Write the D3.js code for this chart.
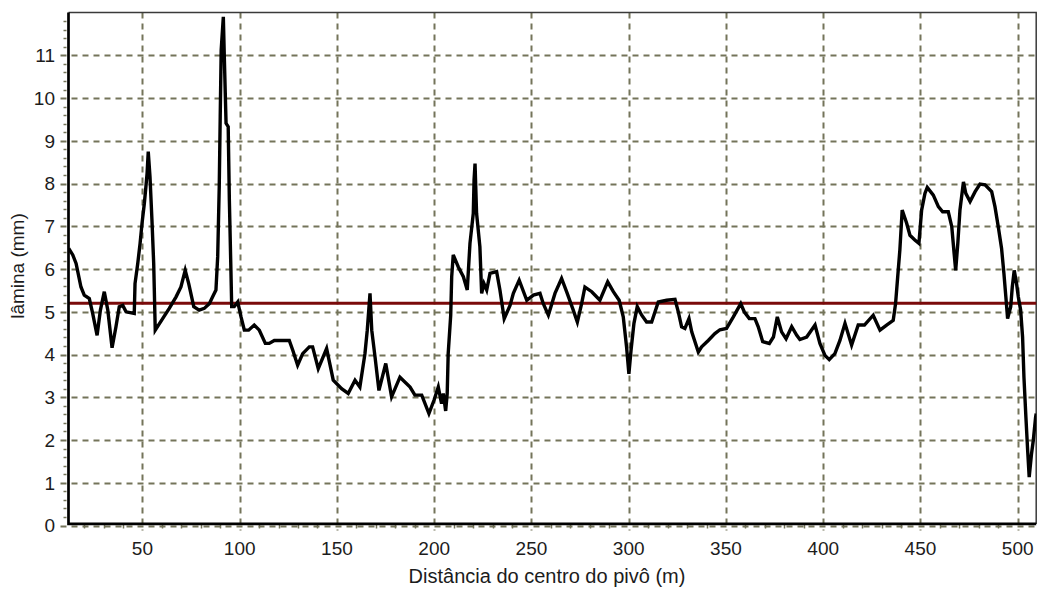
<!DOCTYPE html>
<html>
<head>
<meta charset="utf-8">
<script src="https://cdn.jsdelivr.net/npm/d3@7"></script>
<style>
  html, body { margin: 0; padding: 0; background: #fff; }
  svg { display: block; }
  text { font-family: "Liberation Sans", Arial, sans-serif; font-size: 19px; fill: #1c1c1c; }
</style>
</head>
<body>
<svg id="chart" width="1044" height="593"></svg>
<script>
// Distância ao centro do pivô (m)
const distancias = [
  12.1, 14.2, 15.9, 18.4, 20.1, 22.7, 24.4, 26.7, 28.4, 30.4, 32.2, 34.4, 36.4, 38.1, 39.9, 41.6,
  45.8, 46.2, 47.6, 48.8, 49.8, 51.0, 51.8, 52.4, 53.0, 53.9, 54.9, 55.8, 56.6, 60.4, 63.8, 67.3,
  69.8, 72.0, 73.8, 76.4, 79.2, 81.8, 84.4, 86.1, 87.8, 88.7, 89.5, 90.0, 90.5, 91.6, 92.1, 93.0,
  94.1, 94.7, 95.5, 95.9, 97.2, 99.0, 100.7, 102.4, 104.6, 107.5, 110.1, 113.2, 115.2, 117.8, 125.5,
  127.3, 129.8, 132.4, 135.8, 137.5, 140.4, 144.7, 148.1, 152.4, 155.8, 159.3, 161.8, 164.4, 165.6,
  167.0, 167.9, 169.6, 171.6, 175.1, 178.1, 182.4, 187.6, 190.1, 193.6, 197.3, 199.9, 202.1, 203.8,
  204.7, 205.9, 206.7, 207.2, 208.5, 209.0, 209.8, 212.4, 215.0, 217.0, 218.4, 220.1, 220.5, 221.0,
  221.8, 223.5, 224.4, 225.6, 227.0, 228.7, 232.1, 233.8, 236.0, 239.0, 240.7, 243.7, 247.6, 251.0,
  254.4, 256.1, 258.7, 262.1, 265.5, 268.4, 271.5, 273.6, 275.8, 277.5, 281.0, 285.2, 289.2, 292.1,
  295.1, 297.2, 298.9, 300.1, 301.2, 302.7, 304.4, 306.7, 309.2, 311.8, 315.2, 319.5, 323.8, 325.5,
  327.2, 328.9, 331.0, 332.4, 335.8, 337.5, 340.9, 344.3, 346.9, 350.3, 353.8, 357.6, 359.4, 362.0,
  364.9, 366.6, 368.9, 372.3, 374.4, 376.4, 378.6, 380.9, 383.8, 386.4, 388.0, 391.5, 395.8, 398.3,
  400.9, 403.1, 406.0, 408.6, 411.2, 414.6, 418.0, 421.2, 425.7, 429.2, 432.6, 436.0, 437.2, 438.3,
  439.4, 440.6, 442.9, 444.6, 447.1, 449.2, 450.6, 452.3, 453.5, 456.6, 459.2, 461.4, 464.3, 466.1,
  467.3, 468.1, 469.2, 470.3, 472.1, 473.3, 475.5, 478.1, 480.6, 483.2, 486.6, 488.3, 490.0, 491.7,
  492.9, 493.9, 494.8, 496.4, 497.2, 498.2, 499.4, 500.3, 501.5, 502.5, 503.2, 504.2, 505.1, 505.9,
  507.1, 508.0, 509.2, 509.5
];

// Lâmina aplicada (mm)
const laminas = [
  6.48, 6.33, 6.13, 5.58, 5.39, 5.31, 4.97, 4.45, 5.04, 5.47, 5.04, 4.16, 4.65, 5.12, 5.15, 5.00,
  4.96, 5.66, 6.13, 6.60, 7.07, 7.54, 7.93, 8.24, 8.75, 8.16, 7.15, 6.13, 4.57, 4.84, 5.08, 5.35,
  5.58, 5.97, 5.66, 5.12, 5.04, 5.08, 5.19, 5.35, 5.51, 6.29, 7.93, 9.57, 11.13, 11.90, 10.97, 9.41,
  9.33, 7.61, 5.97, 5.12, 5.12, 5.23, 4.88, 4.57, 4.57, 4.69, 4.57, 4.26, 4.26, 4.33, 4.33,
  4.10, 3.75, 4.02, 4.18, 4.18, 3.67, 4.14, 3.40, 3.20, 3.09, 3.40, 3.24, 4.02, 4.57,
  5.43, 4.57, 3.94, 3.16, 3.79, 3.01, 3.47, 3.24, 3.05, 3.05, 2.62, 2.93, 3.24, 2.85,
  3.09, 2.68, 3.09, 4.02, 4.92, 5.82, 6.33, 6.05, 5.82, 5.51, 6.60, 7.30, 8.08, 8.47,
  7.30, 6.52, 5.43, 5.66, 5.51, 5.90, 5.94, 5.51, 4.84, 5.15, 5.43, 5.74, 5.27, 5.39,
  5.43, 5.19, 4.92, 5.43, 5.78, 5.43, 5.04, 4.76, 5.19, 5.58, 5.47, 5.27, 5.70, 5.47,
  5.27, 4.88, 4.18, 3.55, 4.10, 4.73, 5.12, 4.92, 4.76, 4.76, 5.23, 5.27, 5.29, 5.00,
  4.65, 4.61, 4.84, 4.53, 4.06, 4.18, 4.33, 4.49, 4.58, 4.61, 4.88, 5.19, 5.00, 4.84,
  4.84, 4.65, 4.30, 4.26, 4.41, 4.88, 4.53, 4.37, 4.65, 4.45, 4.35, 4.41, 4.69, 4.26,
  3.98, 3.88, 4.02, 4.33, 4.73, 4.22, 4.69, 4.69, 4.92, 4.57, 4.69, 4.80, 5.19, 5.82,
  6.44, 7.38, 7.07, 6.79, 6.68, 6.60, 7.38, 7.77, 7.91, 7.73, 7.46, 7.34, 7.34, 6.99,
  6.37, 5.97, 6.60, 7.38, 8.04, 7.77, 7.58, 7.81, 7.99, 7.97, 7.81, 7.46, 6.99, 6.48,
  5.90, 5.35, 4.84, 5.12, 5.58, 5.97, 5.66, 5.35, 5.04, 4.41, 3.47, 2.54, 1.76, 1.13,
  1.68, 1.99, 2.54, 2.62
];

// Lâmina média (mm)
const laminaMedia = 5.2;

// Marcas dos eixos
const xTicks = [50, 100, 150, 200, 250, 300, 350, 400, 450, 500];
const yTicks = [0, 1, 2, 3, 4, 5, 6, 7, 8, 9, 10, 11];
const xMinor = d3.range(20, 510, 10);
const yMinor = d3.range(0.2, 12, 0.2);

const xTitulo = "Distância do centro do pivô (m)";
const yTitulo = "lâmina (mm)";

const svg = d3.select("#chart");
const margem = { esq: 68.5, dir: 1036.2, sup: 12.6, inf: 525.5 };

const x = d3.scaleLinear().domain([12, 509.5]).range([margem.esq, margem.dir]);
const y = d3.scaleLinear().domain([0, 12]).range([margem.inf, margem.sup]);

const corGrade = "#74745a";

// Grade tracejada
const grade = svg.append("g");
grade.selectAll("line.h").data(yTicks).join("line")
  .attr("class", "h")
  .attr("x1", margem.esq - 8).attr("x2", margem.dir)
  .attr("y1", d => Math.round(y(d)) + 0.5).attr("y2", d => Math.round(y(d)) + 0.5)
  .attr("stroke", corGrade).attr("stroke-width", 2)
  .attr("stroke-dasharray", "6,5");
grade.selectAll("line.v").data(xTicks).join("line")
  .attr("class", "v")
  .attr("x1", d => Math.round(x(d)) + 0.5).attr("x2", d => Math.round(x(d)) + 0.5)
  .attr("y1", margem.sup).attr("y2", margem.inf + 5)
  .attr("stroke", corGrade).attr("stroke-width", 2)
  .attr("stroke-dasharray", "6,5");

// Marcas secundárias
svg.append("g").selectAll("line").data(xMinor.filter(d => d % 50 !== 0)).join("line")
  .attr("x1", d => Math.round(x(d)) + 0.5).attr("x2", d => Math.round(x(d)) + 0.5)
  .attr("y1", margem.inf - 1).attr("y2", margem.inf + 3)
  .attr("stroke", corGrade).attr("stroke-width", 1.5);
svg.append("g").selectAll("line").data(yMinor.filter(d => Math.abs(d - Math.round(d)) > 0.05)).join("line")
  .attr("x1", margem.esq - 5).attr("x2", margem.esq - 2)
  .attr("y1", d => Math.round(y(d)) + 0.5).attr("y2", d => Math.round(y(d)) + 0.5)
  .attr("stroke", corGrade).attr("stroke-width", 1.5);

// Moldura
svg.append("path")
  .attr("d", `M${margem.esq},${margem.sup}H${margem.dir}V${margem.inf - 1.5}`)
  .attr("fill", "none").attr("stroke", "#3a3a3a").attr("stroke-width", 1.5);

// Linha da lâmina média
svg.append("line")
  .attr("x1", margem.esq).attr("x2", margem.dir)
  .attr("y1", y(laminaMedia)).attr("y2", y(laminaMedia))
  .attr("stroke", "#7a0a0a").attr("stroke-width", 3);

// Perfil de lâmina
svg.append("clipPath").attr("id", "area")
  .append("rect").attr("x", margem.esq).attr("y", margem.sup - 2)
  .attr("width", margem.dir - margem.esq).attr("height", margem.inf - margem.sup + 2);

const pontos = distancias.map((d, i) => [d, laminas[i]]);
svg.append("path")
  .datum(pontos)
  .attr("clip-path", "url(#area)")
  .attr("fill", "none")
  .attr("stroke", "#000")
  .attr("stroke-width", 3.4)
  .attr("stroke-linejoin", "miter")
  .attr("d", d3.line().x(d => x(d[0])).y(d => y(d[1])));

// Eixos esquerdo e inferior
svg.append("path")
  .attr("d", `M${margem.esq},${margem.sup}V${margem.inf - 1.7}H${margem.dir}`)
  .attr("fill", "none").attr("stroke", "#000").attr("stroke-width", 2.7);

// Rótulos das marcas
svg.append("g").selectAll("text").data(xTicks).join("text")
  .attr("x", d => x(d)).attr("y", 555)
  .attr("text-anchor", "middle")
  .text(d => d);
svg.append("g").selectAll("text").data(yTicks).join("text")
  .attr("x", 55).attr("y", d => y(d))
  .attr("dy", "0.36em")
  .attr("text-anchor", "end")
  .text(d => d);

// Títulos dos eixos
svg.append("text")
  .attr("x", (407 + 687) / 2).attr("y", 583)
  .attr("text-anchor", "middle")
  .style("font-size", "20px")
  .text(xTitulo);
svg.append("text")
  .attr("transform", "translate(24,266) rotate(-90)")
  .attr("text-anchor", "middle")
  .text(yTitulo);
</script>
</body>
</html>
